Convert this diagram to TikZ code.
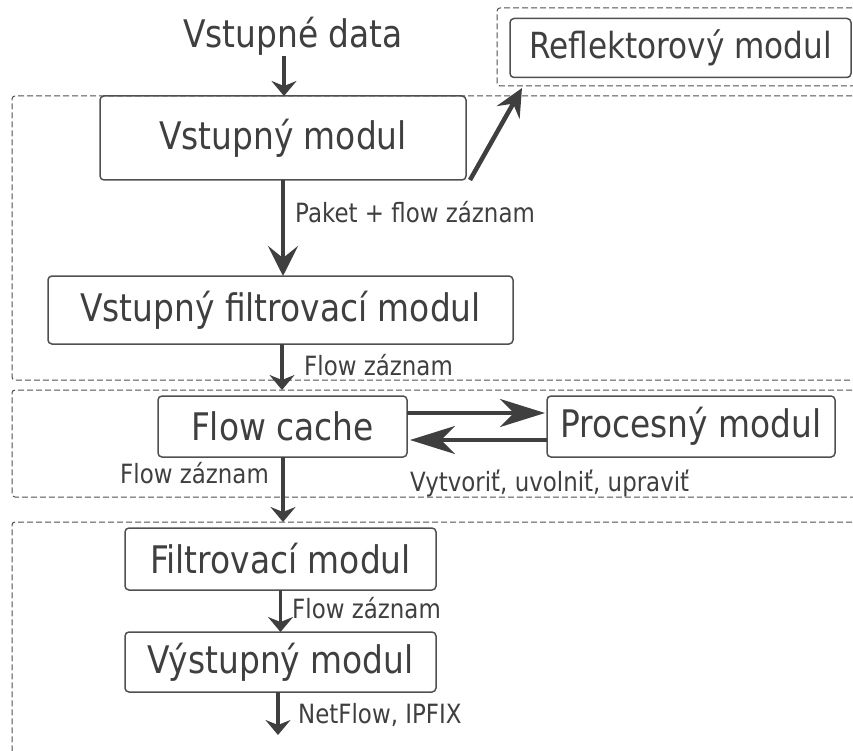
\documentclass[tikz,border=0pt]{standalone}
\usepackage{fontspec}
\setmainfont{DejaVu Sans}[FakeStretch=0.865]
\usetikzlibrary{arrows.meta}
\definecolor{ink}{HTML}{3F3F3F}
\definecolor{frame}{HTML}{505050}
\begin{document}
\begin{tikzpicture}[x=1pt,y=-1pt,
  mbox/.style={draw=frame,line width=1.5pt,rounded corners=4pt,inner sep=0pt,outer sep=0pt,
    text=ink,font=\fontsize{38}{42}\selectfont},
  lbl/.style={anchor=base west,inner sep=0pt,text=ink,font=\fontsize{26.5}{30}\selectfont},
  grp/.style={draw=frame,line width=1pt,dash pattern=on 6pt off 3pt,rounded corners=3pt},
  arrs/.style={draw=ink,line width=3.5pt,-{Stealth[length=15pt,width=25pt,inset=5pt]}},
  arrb/.style={draw=ink,line width=4.5pt,-{Stealth[length=30pt,width=30pt,inset=12pt]}},
  arrh/.style={draw=ink,line width=4pt,-{Stealth[length=45pt,width=28pt,inset=14pt]}},
  arrr/.style={draw=ink,line width=4.5pt,-{Stealth[length=28pt,width=26pt,inset=10pt]}}]
\useasboundingbox (0,0) rectangle (853,751);
\clip (0,0) rectangle (853,751);
% dashed groups
\draw[grp] (870,8) -- (497,8) -- (497,86) -- (870,86);
\draw[grp] (870,96) -- (12,96) -- (12,380) -- (870,380);
\draw[grp] (870,390) -- (12,390) -- (12,497) -- (870,497);
\draw[grp] (870,522) -- (12,522) -- (12,800);
% nodes
\node[anchor=base,inner sep=0pt,text=ink,font=\fontsize{38}{42}\selectfont] (in) at (293,48) {Vstupné data};
\node[mbox,minimum width=341pt,minimum height=59pt,font=\fontsize{36}{40}\selectfont] (ref) at (680.5,48) {Reflektorový modul};
\node[mbox,minimum width=366pt,minimum height=84pt] (vm) at (283,138) {Vstupný modul};
\node[mbox,minimum width=465pt,minimum height=68pt] (vfm) at (280.5,310) {Vstupný filtrovací modul};
\node[mbox,minimum width=249pt,minimum height=61pt] (fc) at (282.5,426.5) {Flow cache};
\node[mbox,minimum width=288pt,minimum height=61pt] (pm) at (691,426.5) {Procesný modul};
\node[mbox,minimum width=311pt,minimum height=62pt] (fm) at (280.5,559) {Filtrovací modul};
\node[mbox,minimum width=311pt,minimum height=60pt] (om) at (280.5,662) {Výstupný modul};
% coordinates
\coordinate (inarrow) at (284,56);
\coordinate (refin) at (522,88);
\coordinate (vmout) at (470,180);
\coordinate (g2top) at (282,390);
\coordinate (g3top) at (283,522);
\coordinate (outend) at (278,735);
% connectors
\draw[arrs] (inarrow) -- (inarrow |- vm.north);
\draw[arrr] (vmout) -- (refin);
\draw[arrb] (vm.south) -- (vm.south |- vfm.north);
\draw[arrs] (vfm.south -| g2top) -- (g2top);
\draw[arrs] (fc.south -| g3top) -- (g3top);
\draw[arrs] (fm.south) -- (fm.south |- om.north);
\draw[arrs] (om.south -| outend) -- (outend);
\draw[arrh] ([yshift=13.5pt]fc.east) -- ([yshift=13.5pt,xshift=-2pt]pm.west);
\draw[arrh] ([yshift=-13.5pt]pm.west) -- ([yshift=-13.5pt,xshift=3pt]fc.east);
% labels
\node[lbl] (l1) at (295,223) {Paket + flow záznam};
\node[lbl] (l2) at (304,375) {Flow záznam};
\node[lbl] (l3) at (120,483) {Flow záznam};
\node[lbl] (l4) at (410,491) {Vytvoriť, uvolniť, upraviť};
\node[lbl] (l5) at (292,618) {Flow záznam};
\node[lbl] (l6) at (298,723) {NetFlow, IPFIX};
\end{tikzpicture}
\end{document}
